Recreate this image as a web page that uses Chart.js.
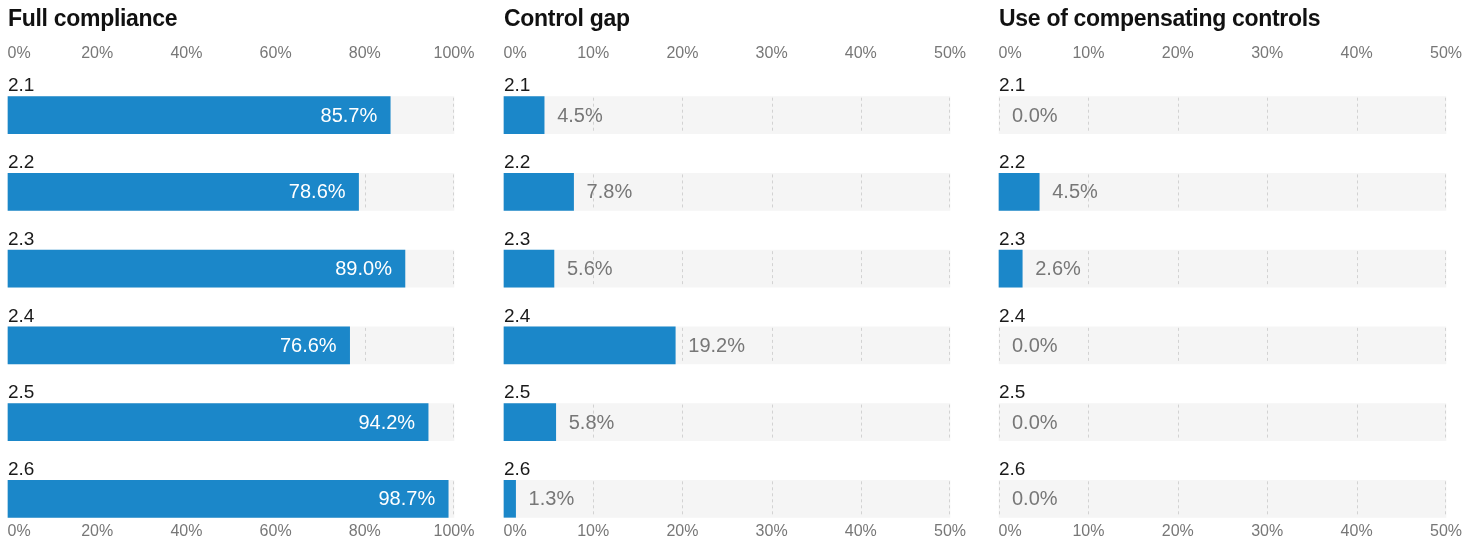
<!DOCTYPE html>
<html>
<head>
<meta charset="utf-8">
<script src="https://cdn.jsdelivr.net/npm/chart.js@4"></script>
<style>
  html, body { margin: 0; padding: 0; background: #fff; }
  body { width: 1481px; height: 548px; position: relative; overflow: hidden; }
  .title {
    position: absolute; top: 7px;
    font-family: "Liberation Sans", Arial, sans-serif;
    font-weight: bold; font-size: 23px; line-height: 23px;
    letter-spacing: -0.3px; color: #111;
    z-index: 2;
  }
  canvas { position: absolute; top: -10px; }
</style>
</head>
<body>
<div class="title" style="left:8px">Full compliance</div>
<div class="title" style="left:504px">Control gap</div>
<div class="title" style="left:999px">Use of compensating controls</div>
<canvas id="c1" width="626" height="574" style="left:-82px"></canvas>
<canvas id="c2" width="626" height="574" style="left:414px"></canvas>
<canvas id="c3" width="627" height="574" style="left:909px"></canvas>
<script>
// ----- data -----
const categories = ['2.1', '2.2', '2.3', '2.4', '2.5', '2.6'];
const fullCompliance = [85.7, 78.6, 89.0, 76.6, 94.2, 98.7];
const controlGap = [4.5, 7.8, 5.6, 19.2, 5.8, 1.3];
const compensating = [0.0, 4.5, 2.6, 0.0, 0.0, 0.0];
const panelMax = [100, 50, 50];
const panelStep = [20, 10, 10];

const BLUE = '#1b87c9';
const TRACK = '#f5f5f5';
const FONT = '"Liberation Sans", Arial, sans-serif';

// dashed gridlines only inside the grey tracks
const trackGrid = {
  id: 'trackGrid',
  afterDatasetDraw(chart, args) {
    if (args.index !== 1) return;
    const ctx = chart.ctx;
    const xs = chart.scales.x;
    ctx.save();
    ctx.strokeStyle = '#d2d2d2';
    ctx.lineWidth = 1;
    ctx.setLineDash([3, 3]);
    args.meta.data.forEach((bar) => {
      const top = bar.y - bar.height / 2;
      const bottom = bar.y + bar.height / 2;
      xs.ticks.forEach((t) => {
        let px = Math.round(xs.getPixelForValue(t.value)) + 0.5;
        if (t.value === xs.max) px -= 1;
        ctx.beginPath();
        ctx.moveTo(px, top + 1);
        ctx.lineTo(px, bottom);
        ctx.stroke();
      });
    });
    ctx.restore();
  }
};

// value labels at bar ends
const valueLabels = {
  id: 'valueLabels',
  afterDatasetsDraw(chart) {
    const inside = chart.options.plugins.valueLabels.inside;
    const ctx = chart.ctx;
    const meta = chart.getDatasetMeta(0);
    const vals = chart.data.datasets[0].data;
    ctx.save();
    ctx.font = '20px ' + FONT;
    ctx.textBaseline = 'middle';
    meta.data.forEach((bar, i) => {
      const txt = vals[i].toFixed(1) + '%';
      if (inside) {
        ctx.fillStyle = '#fff';
        ctx.textAlign = 'right';
        ctx.fillText(txt, bar.x - 13, bar.y + 1);
      } else {
        ctx.fillStyle = '#777';
        ctx.textAlign = 'left';
        ctx.fillText(txt, bar.x + 13, bar.y + 1);
      }
    });
    ctx.restore();
  }
};

function tickLabel(v, i) {
  // first label sits left-aligned on the axis start
  return i === 0 ? '     0%' : v + '%';
}

function makeChart(id, values, max, step, inside) {
  const xAxis = (pos, pad) => ({
    type: 'linear',
    position: pos,
    min: 0,
    max: max,
    grid: { display: false, drawTicks: false },
    border: { display: false },
    ticks: {
      stepSize: step,
      padding: pad,
      color: '#777',
      font: { family: FONT, size: 16 },
      maxRotation: 0,
      autoSkip: false,
      callback: tickLabel
    }
  });

  new Chart(document.getElementById(id), {
    type: 'bar',
    data: {
      labels: categories,
      datasets: [
        {
          data: values,
          backgroundColor: (c) => (c.raw === 0 ? 'rgba(0,0,0,0)' : BLUE),
          order: 1,
          xAxisID: 'x'
        },
        {
          data: categories.map(() => max),
          backgroundColor: TRACK,
          order: 2,
          xAxisID: 'x'
        }
      ]
    },
    options: {
      indexAxis: 'y',
      responsive: false,
      animation: false,
      devicePixelRatio: 1,
      layout: { padding: { left: 90, right: 90, top: 2, bottom: 0 } },
      datasets: {
        bar: { grouped: false, barThickness: 37, clip: false, borderWidth: 0 }
      },
      scales: {
        x: xAxis('top', 52),
        x2: xAxis('bottom', 23),
        y: {
          type: 'category',
          offset: false,
          grid: { display: false, drawTicks: false },
          border: { display: false },
          ticks: {
            mirror: true,
            padding: 0,
            labelOffset: -29,
            color: '#1a1a1a',
            font: { family: FONT, size: 19 }
          }
        }
      },
      plugins: {
        legend: { display: false },
        tooltip: { enabled: false },
        valueLabels: { inside: inside }
      }
    },
    plugins: [trackGrid, valueLabels]
  });
}

makeChart('c1', fullCompliance, panelMax[0], panelStep[0], true);
makeChart('c2', controlGap, panelMax[1], panelStep[1], false);
makeChart('c3', compensating, panelMax[2], panelStep[2], false);
</script>
</body>
</html>
